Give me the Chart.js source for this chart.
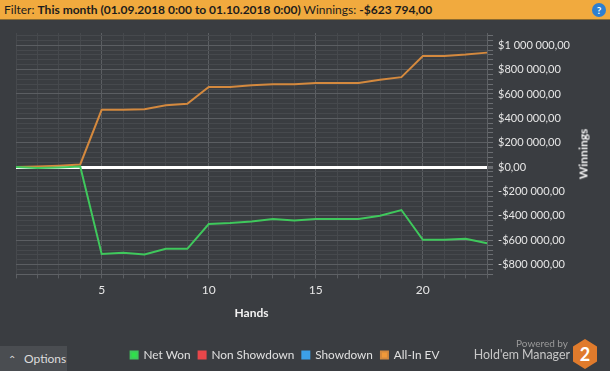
<!DOCTYPE html>
<html>
<head>
<meta charset="utf-8">
<script src="https://cdn.jsdelivr.net/npm/chart.js@4.4.0/dist/chart.umd.min.js"></script>
<style>
  html, body { margin: 0; padding: 0; }
  body { width: 610px; height: 371px; overflow: hidden; background: #3a3d41; position: relative; font-family: Lato, sans-serif; }
  #chart { position: absolute; left: 0; top: 0; }
  .header { position: absolute; left: 0; top: 0; width: 610px; height: 19px; background: #f1aa3e; border-bottom: 1px solid #8a6a30; color: #1c1c1c; font-size: 12px; line-height: 19px; white-space: nowrap; }
  .header span.t { position: absolute; left: 4px; top: 0; }
  .header b { font-weight: bold; }
  .help { position: absolute; left: 592px; top: 3px; width: 14px; height: 14px; border-radius: 50%; background: #2e7fd0; color: #fff; font-size: 10px; line-height: 14px; text-align: center; font-weight: bold; }
  .ytitle { position: absolute; left: 583px; top: 154px; transform: translate(-50%, -50%) rotate(-90deg); color: #f2f2f2; font-weight: bold; font-size: 12px; }
  .options { position: absolute; left: 0; top: 346px; width: 67px; height: 25px; background: #4a4d51; color: #dcdcdc; font-size: 12px; line-height: 25px; }
  .options span { margin-left: 8px; margin-right: 8px; font-size: 10px; }
  .powered { position: absolute; right: 42px; top: 337px; color: #9a9a9a; font-size: 10px; }
  .hem { position: absolute; right: 40px; top: 347px; color: #c8c8c8; font-size: 12.4px; }
  .logo { position: absolute; left: 573px; top: 339px; width: 24px; height: 30px; background: #e07b2c; clip-path: polygon(50% 0, 100% 25%, 100% 75%, 50% 100%, 0 75%, 0 25%); color: #fff; font-weight: bold; font-size: 18px; line-height: 30px; text-align: center; }
</style>
</head>
<body>
<canvas id="chart" width="610" height="371"></canvas>
<div class="header"><span class="t">Filter: <b>This month (01.09.2018 0:00 to 01.10.2018 0:00)</b> Winnings: <b>-$623 794,00</b></span><div class="help">?</div></div>
<div class="ytitle">Winnings</div>
<div class="options"><span>&#8963;</span>Options</div>
<div class="powered">Powered by</div>
<div class="hem">Hold'em Manager</div>
<div class="logo">2</div>
<script>
const hands = [1, 2, 3, 4, 5, 6, 7, 8, 9, 10, 11, 12, 13, 14, 15, 16, 17, 18, 19, 20, 21, 22, 23];
const netWon = [0, -8000, -3000, 5000, -713000, -702000, -716000, -670000, -670000, -467000, -459000, -446000, -426000, -438000, -426000, -426000, -426000, -399000, -352000, -596000, -596000, -588000, -623794];
const nonShowdown = [];
const showdown = [];
const allInEv = [0, 5000, 12000, 22000, 470000, 470000, 475000, 508000, 519000, 658000, 658000, 672000, 680000, 680000, 689000, 689000, 689000, 716000, 738000, 912000, 912000, 923000, 939000];

const yMin = -880000;
const yMax = 1100000;
const yMinorStep = 40000;
const yLabelStep = 200000;
const legendCenterX = 285;
const fontName = "Lato";

function money(v) {
    const abs = Math.abs(v).toFixed(0).replace(/\B(?=(\d{3})+(?!\d))/g, " ");
    return (v < 0 ? "-$" : "$") + abs + ",00";
}

const legendShift = {
    id: "legendShift",
    afterLayout(chart) {
        const lg = chart.legend;
        const d = legendCenterX - (lg.left + lg.right) / 2;
        lg.left += d;
        lg.right += d;
    }
};

new Chart(document.getElementById("chart"), {
    type: "line",
    data: {
        labels: hands,
        datasets: [
            { label: "Net Won", data: netWon, borderColor: "#3fc85c", backgroundColor: "#2fe04a", borderWidth: 2, pointRadius: 0, tension: 0 },
            { label: "Non Showdown", data: nonShowdown, borderColor: "#e8474a", backgroundColor: "#e8474a", borderWidth: 2, pointRadius: 0 },
            { label: "Showdown", data: showdown, borderColor: "#3ca0e8", backgroundColor: "#3ca0e8", borderWidth: 2, pointRadius: 0 },
            { label: "All-In EV", data: allInEv, borderColor: "#d4893e", backgroundColor: "#f0993a", borderWidth: 2, pointRadius: 0, tension: 0 }
        ]
    },
    options: {
        responsive: false,
        animation: false,
        layout: { padding: { left: 16, top: 33, right: 35, bottom: 0 } },
        plugins: {
            tooltip: { enabled: false },
            legend: {
                position: "bottom",
                fullSize: false,
                labels: { boxWidth: 7, boxHeight: 7, padding: 8, color: "#e0e0e0", font: { family: fontName, size: 11.8 } }
            }
        },
        scales: {
            x: {
                type: "category",
                offset: false,
                grid: {
                    offset: false,
                    color: (c) => (hands[c.index] % 5 === 0 ? "#5b5e62" : "#46494d"),
                    tickColor: "#5b5e62",
                    tickLength: 4
                },
                border: { color: "#5e6165" },
                ticks: {
                    autoSkip: false,
                    maxRotation: 0,
                    padding: 4.5,
                    color: "#e6e6e6",
                    font: { family: fontName, size: 12 },
                    callback: (v, i) => (hands[i] % 5 === 0 ? String(hands[i]) : "")
                },
                title: { display: true, text: "Hands", color: "#f2f2f2", font: { family: fontName, size: 12, weight: "bold" }, padding: { top: 4, bottom: 21 } }
            },
            y: {
                position: "right",
                min: yMin,
                max: yMax,
                afterBuildTicks: (scale) => {
                    const t = [];
                    for (let v = yMin; v <= yMax; v += yMinorStep) t.push({ value: v });
                    scale.ticks = t;
                },
                grid: {
                    color: (c) => {
                        if (c.tick.value === 0) return "#ffffff";
                        return c.tick.value % yLabelStep === 0 ? "#5b5e62" : "#46494d";
                    },
                    lineWidth: (c) => (c.tick.value === 0 ? 3 : 1),
                    tickColor: "#6a6d71",
                    tickLength: 6
                },
                border: { color: "#5e6165" },
                ticks: {
                    autoSkip: false,
                    padding: 5,
                    color: "#e6e6e6",
                    font: { family: fontName, size: 11 },
                    callback: (v) => (v % yLabelStep === 0 ? money(v) : "")
                }
            }
        }
    },
    plugins: [legendShift]
});
</script>
</body>
</html>
